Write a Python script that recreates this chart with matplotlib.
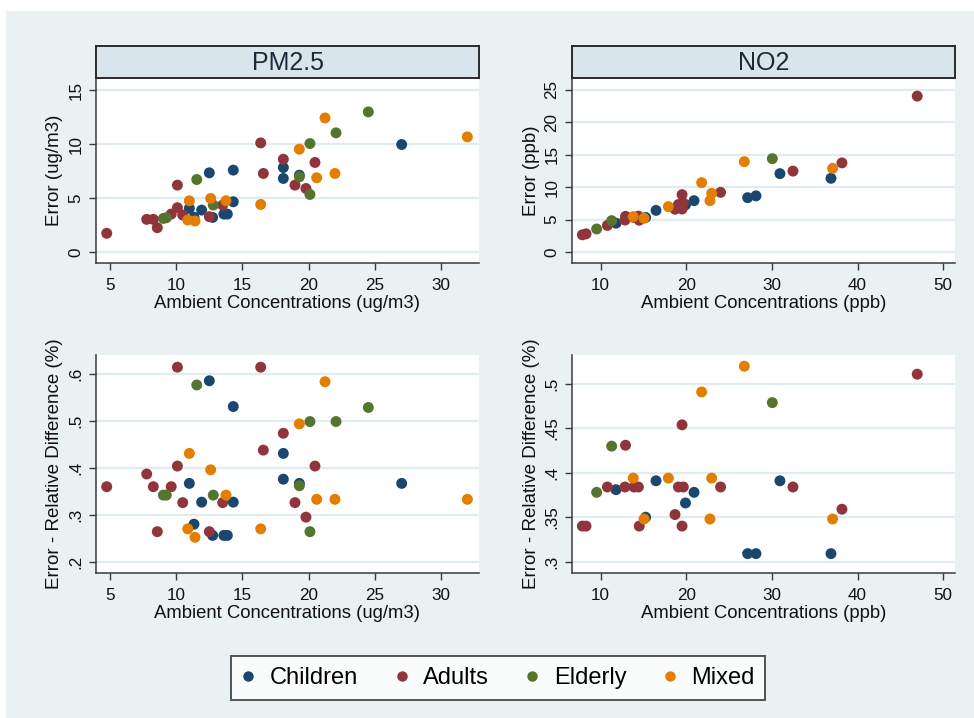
import matplotlib
matplotlib.use("Agg")
import matplotlib.pyplot as plt
from matplotlib.patches import Rectangle
from matplotlib.lines import Line2D

plt.rcParams['font.family'] = ['Liberation Sans', 'DejaVu Sans']

# ---------------- data ----------------
groups = ["Children", "Adults", "Elderly", "Mixed"]
colors = ["#1a476f", "#90353b", "#55752f", "#e37e00"]

# PM2.5
pm_child_x = [10.99, 11.34, 11.92, 12.50, 12.75, 13.60, 13.86, 14.31, 14.31, 18.09, 18.09, 19.30, 27.03]
pm_child_err = [4.07, 3.25, 3.91, 7.36, 3.23, 3.54, 3.54, 4.68, 7.61, 7.85, 6.84, 7.14, 9.98]
pm_child_rel = [0.367, 0.280, 0.327, 0.586, 0.256, 0.256, 0.256, 0.327, 0.531, 0.431, 0.376, 0.367, 0.367]

pm_adult_x = [4.75, 7.77, 8.27, 8.57, 9.62, 10.09, 10.09, 10.49, 12.50, 13.51, 16.38, 16.58, 18.09, 18.97, 19.80, 20.48]
pm_adult_err = [1.76, 3.05, 3.05, 2.28, 3.54, 4.13, 6.22, 3.45, 3.30, 4.37, 10.13, 7.30, 8.62, 6.22, 5.91, 8.32]
pm_adult_rel = [0.360, 0.387, 0.360, 0.264, 0.360, 0.404, 0.615, 0.326, 0.264, 0.326, 0.615, 0.438, 0.474, 0.326, 0.295, 0.404]

pm_eld_x = [9.03, 9.25, 11.55, 12.80, 19.30, 20.10, 20.10, 22.07, 24.51]
pm_eld_err = [3.14, 3.20, 6.74, 4.37, 6.99, 10.07, 5.36, 11.06, 13.00]
pm_eld_rel = [0.342, 0.342, 0.577, 0.342, 0.362, 0.499, 0.264, 0.499, 0.529]

pm_mix_x = [10.87, 10.99, 11.42, 12.60, 13.76, 16.38, 19.30, 20.61, 21.24, 21.99, 31.99]
pm_mix_err = [2.99, 4.77, 2.90, 4.99, 4.77, 4.43, 9.55, 6.90, 12.44, 7.30, 10.69]
pm_mix_rel = [0.270, 0.431, 0.252, 0.396, 0.342, 0.270, 0.494, 0.333, 0.584, 0.333, 0.333]

# NO2
no_child_x = [11.79, 15.25, 16.46, 19.90, 20.90, 27.16, 28.13, 30.93, 36.89]
no_child_err = [4.45, 5.32, 6.42, 7.28, 7.92, 8.38, 8.66, 12.09, 11.37]
no_child_rel = [0.381, 0.350, 0.391, 0.366, 0.378, 0.309, 0.309, 0.391, 0.309]

no_adult_x = [7.86, 8.29, 10.78, 12.84, 12.90, 13.89, 14.40, 14.50, 18.68, 19.07, 19.50, 19.50, 19.65, 24.00, 32.45, 38.17, 46.96]
no_adult_err = [2.65, 2.80, 4.10, 4.93, 5.50, 5.33, 5.53, 4.90, 6.60, 7.32, 8.85, 6.63, 7.55, 9.20, 12.48, 13.75, 24.05]
no_adult_rel = [0.340, 0.340, 0.384, 0.384, 0.431, 0.384, 0.384, 0.340, 0.353, 0.384, 0.454, 0.340, 0.384, 0.384, 0.384, 0.359, 0.511]

no_eld_x = [9.53, 11.28, 30.04]
no_eld_err = [3.55, 4.84, 14.40]
no_eld_rel = [0.378, 0.430, 0.479]

no_mix_x = [13.80, 15.06, 17.90, 21.79, 22.76, 22.96, 26.77, 37.08]
no_mix_err = [5.45, 5.20, 7.00, 10.70, 7.92, 9.05, 13.94, 12.91]
no_mix_rel = [0.394, 0.348, 0.394, 0.491, 0.348, 0.394, 0.520, 0.348]

pm_ticks_x = [5, 10, 15, 20, 25, 30]
pm_ticks_err = [0, 5, 10, 15]
pm_ticks_rel = [0.2, 0.3, 0.4, 0.5, 0.6]
pm_ticklabels_rel = [".2", ".3", ".4", ".5", ".6"]
no_ticks_x = [10, 20, 30, 40, 50]
no_ticks_err = [0, 5, 10, 15, 20, 25]
no_ticks_rel = [0.30, 0.35, 0.40, 0.45, 0.50]
no_ticklabels_rel = [".3", ".35", ".4", ".45", ".5"]

titles = ["PM2.5", "NO2"]
xlabels = ["Ambient Concentrations (ug/m3)", "Ambient Concentrations (ppb)"]
ylabels_top = ["Error (ug/m3)", "Error (ppb)"]
ylabel_bottom = "Error - Relative Difference (%)"

# ---------------- figure ----------------
W, H = 974, 718
fig = plt.figure(figsize=(W / 100, H / 100), dpi=100, facecolor="white")

BG = "#E9F1F3"
STRIP = "#D8E5EB"
GRID = "#E0ECF0"
AXC = "#3a3a3a"

fig.patches.append(Rectangle((6 / W, 0), 1 - 6 / W, 1 - 11 / H, transform=fig.transFigure,
                             facecolor=BG, edgecolor="none", zorder=-10))


def rect(l, t, r, b):
    return [l / W, 1 - b / H, (r - l) / W, (b - t) / H]


def style(ax, xt, yt, ylab_txt, xlab_txt, xlim, ylim, ytl=None, height=185):
    ax.set_facecolor("white")
    ax.set_xlim(*xlim)
    ax.set_ylim(*ylim)
    ax.set_xticks(xt)
    ax.set_yticks(yt)
    if ytl is not None:
        ax.set_yticklabels(ytl)
    for s in ["top", "right"]:
        ax.spines[s].set_visible(False)
    for s in ["left", "bottom"]:
        ax.spines[s].set_color(AXC)
        ax.spines[s].set_linewidth(1.1)
    ax.grid(axis="y", color=GRID, linewidth=1.6, zorder=0)
    ax.set_axisbelow(True)
    ax.tick_params(axis="both", direction="out", length=5, width=1.0, color=AXC,
                   labelsize=12.3, labelcolor="#111111")
    ax.tick_params(axis="x", pad=6)
    ax.tick_params(axis="y", pad=4, labelrotation=90)
    for lab in ax.get_yticklabels():
        lab.set_va("center")
    ax.set_xlabel(xlab_txt, fontsize=13.3, color="#111111")
    ax.xaxis.set_label_coords(0.5, -32 / height)
    ax.xaxis.label.set_va("top")
    ax.set_ylabel(ylab_txt, fontsize=13.5, color="#111111")
    ax.yaxis.set_label_coords(-41 / 383, 0.5)
    ax.yaxis.label.set_va("center")


def draw(ax, xs, ys):
    for x, y, c in zip(xs, ys, colors):
        ax.scatter(x, y, s=62, color=c, edgecolors="none", zorder=3)


ax1 = fig.add_axes(rect(96, 78, 479, 263))
draw(ax1, [pm_child_x, pm_adult_x, pm_eld_x, pm_mix_x],
     [pm_child_err, pm_adult_err, pm_eld_err, pm_mix_err])
style(ax1, pm_ticks_x, pm_ticks_err, ylabels_top[0], xlabels[0], (3.94, 32.87), (-0.99, 16.14))

ax2 = fig.add_axes(rect(572, 78, 955, 263))
draw(ax2, [no_child_x, no_adult_x, no_eld_x, no_mix_x],
     [no_child_err, no_adult_err, no_eld_err, no_mix_err])
style(ax2, no_ticks_x, no_ticks_err, ylabels_top[1], xlabels[1], (6.65, 51.37), (-1.70, 26.85))

ax3 = fig.add_axes(rect(96, 355, 479, 573))
draw(ax3, [pm_child_x, pm_adult_x, pm_eld_x, pm_mix_x],
     [pm_child_rel, pm_adult_rel, pm_eld_rel, pm_mix_rel])
style(ax3, pm_ticks_x, pm_ticks_rel, ylabel_bottom, xlabels[0], (3.94, 32.87), (0.1758, 0.641),
      ytl=pm_ticklabels_rel, height=218)

ax4 = fig.add_axes(rect(572, 355, 955, 573))
draw(ax4, [no_child_x, no_adult_x, no_eld_x, no_mix_x],
     [no_child_rel, no_adult_rel, no_eld_rel, no_mix_rel])
style(ax4, no_ticks_x, no_ticks_rel, ylabel_bottom, xlabels[1], (6.65, 51.37), (0.2872, 0.5326),
      ytl=no_ticklabels_rel, height=218)

# strips
for (l, r), t in zip([(96, 479), (572, 955)], titles):
    sax = fig.add_axes(rect(l, 46, r, 78))
    sax.set_facecolor(STRIP)
    sax.set_xticks([])
    sax.set_yticks([])
    for s in sax.spines.values():
        s.set_color("#2a2a2a")
        s.set_linewidth(1.4)
    sax.text(0.5, 0.47, t, ha="center", va="center", fontsize=18, color="#1a2a3a",
             transform=sax.transAxes)

# legend
handles = [Line2D([], [], marker="o", linestyle="none", markersize=7.5,
                  markerfacecolor=c, markeredgecolor="none") for c in colors]
leg = fig.legend(handles, groups, loc="center", ncol=4,
                 bbox_to_anchor=(498 / W, 1 - 678 / H), bbox_transform=fig.transFigure,
                 fontsize=17, frameon=True, fancybox=False, handlelength=0.6,
                 handletextpad=0.6, columnspacing=1.55, borderpad=0.45)
leg.get_frame().set_edgecolor("#2a2a2a")
leg.get_frame().set_linewidth(1.4)
leg.get_frame().set_facecolor("white")

fig.savefig("out.png", dpi=100, facecolor=fig.get_facecolor())
